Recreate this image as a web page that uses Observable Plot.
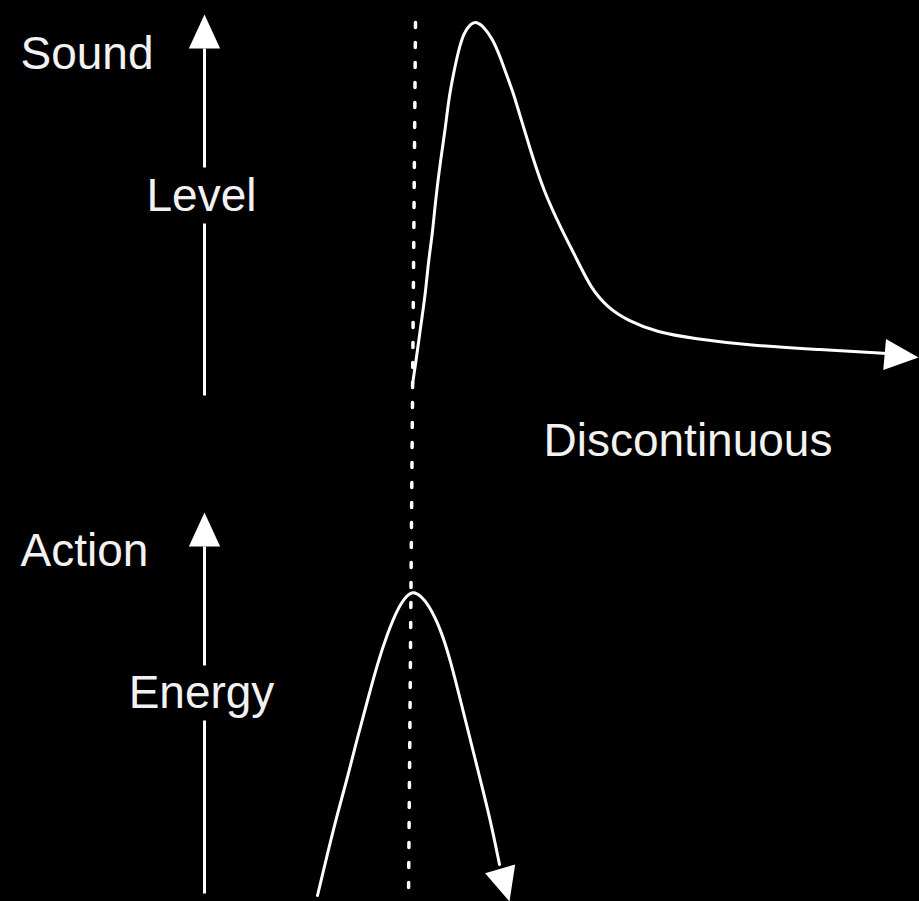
<!DOCTYPE html>
<html>
<head>
<meta charset="utf-8">
<script src="https://cdn.jsdelivr.net/npm/d3@7"></script>
<script src="https://cdn.jsdelivr.net/npm/@observablehq/plot@0.6"></script>
<style>
  html, body { margin: 0; padding: 0; background: #000; }
  #chart svg { display: block; }
</style>
</head>
<body>
<div id="chart"></div>
<script>
// Diagram coordinates (pixel-like units: x 0..919 left→right, y 0..901 top→bottom)
const labelText   = ["Sound", "Level", "Action", "Energy", "Discontinuous"];
const labelX      = [20, 201, 20, 201, 543];
const labelY      = [68, 210, 565, 707, 455];
const labelAnchor = ["start", "middle", "start", "middle", "start"];

// Sound level curve
const soundX = [412, 417, 420, 425, 428, 432, 435, 440, 445, 448, 453, 458, 463, 470, 476, 483, 492, 500, 507, 513, 518, 530, 543, 560, 577, 590, 607, 627, 657, 693, 750, 817, 886];
const soundY = [384, 350, 327, 293, 260, 233, 200, 160, 127, 100, 73, 50, 33, 23, 21, 26, 38, 57, 77, 93, 110, 150, 190, 227, 260, 287, 307, 320, 332, 338, 345, 349, 353];

// Action energy curve
const energyX = [317, 327, 337, 347, 357, 367, 377, 387, 397, 407, 413, 420, 428, 440, 450, 460, 470, 480, 490, 499];
const energyY = [895, 853, 813, 777, 737, 700, 663, 633, 608, 594, 591, 595, 604, 628, 660, 700, 740, 780, 820, 864];

// Axis segments (split around the labels)
const segX1 = [204, 204, 204, 204];
const segY1 = [48, 223, 546, 720];
const segX2 = [204, 204, 204, 204];
const segY2 = [167, 395, 665, 893];

// Dotted marker line
const dotLineX = [415, 408];
const dotLineY = [22, 901];

// Arrowheads: tip position and direction (degrees clockwise from up)
const arrowX     = [204, 204, 918, 509];
const arrowY     = [14, 512, 357, 901];
const arrowAngle = [0, 0, 95, 164];

const rows = (xs, ys) => xs.map((x, i) => ({x, y: ys[i]}));
const labels = labelText.map((t, i) => ({t, x: labelX[i], y: labelY[i], a: labelAnchor[i]}));
const segments = segX1.map((_, i) => ({x1: segX1[i], y1: segY1[i], x2: segX2[i], y2: segY2[i]}));
const arrows = arrowX.map((x, i) => ({x, y: arrowY[i], r: arrowAngle[i]}));

// Arrowhead symbol: tip at origin, base below
const arrowHead = {
  draw(context, size) {
    const L = Math.sqrt(size / Math.PI);
    context.moveTo(0, 0);
    context.lineTo(-0.46 * L, L);
    context.lineTo(0.46 * L, L);
    context.closePath();
  }
};

const fontFamily = "'Liberation Sans', Arial, Helvetica, sans-serif";

const chart = Plot.plot({
  width: 919,
  height: 901,
  margin: 0,
  style: {background: "#000", color: "#fff"},
  x: {domain: [0, 919], range: [0, 919], axis: null},
  y: {domain: [0, 901], range: [0, 901], axis: null},
  marks: [
    Plot.line(rows(dotLineX, dotLineY), {x: "x", y: "y", stroke: "#fff", strokeWidth: 3.5, strokeDasharray: "5,15"}),
    Plot.link(segments, {x1: "x1", y1: "y1", x2: "x2", y2: "y2", stroke: "#fff", strokeWidth: 3}),
    Plot.line(rows(soundX, soundY), {x: "x", y: "y", stroke: "#fff", strokeWidth: 3, curve: "basis"}),
    Plot.line(rows(energyX, energyY), {x: "x", y: "y", stroke: "#fff", strokeWidth: 3, curve: "basis"}),
    Plot.dot(arrows, {x: "x", y: "y", rotate: "r", r: 34, symbol: arrowHead, fill: "#fff", stroke: "none"}),
    Plot.text(labels.filter(d => d.a === "start"), {x: "x", y: "y", text: "t", textAnchor: "start", lineAnchor: "bottom", fill: "#f2f2f2", fontSize: 46, fontFamily}),
    Plot.text(labels.filter(d => d.a === "middle"), {x: "x", y: "y", text: "t", textAnchor: "middle", lineAnchor: "bottom", fill: "#f2f2f2", fontSize: 46, fontFamily})
  ]
});
document.getElementById("chart").appendChild(chart);
</script>
</body>
</html>
